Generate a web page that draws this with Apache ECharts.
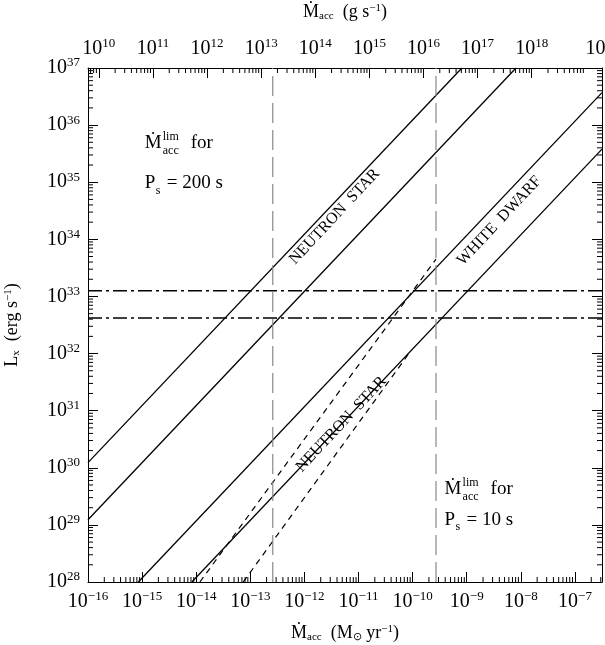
<!DOCTYPE html>
<html><head><meta charset="utf-8">
<script src="https://cdn.jsdelivr.net/npm/echarts@6/dist/echarts.min.js"></script>
<style>html,body{margin:0;padding:0;background:#fff}#c{width:605px;height:645px}</style>
</head><body><div id="c"></div>
<script>
// Axis ranges (Msun/yr, erg/s)
var xMin = 1e-16, xMax = 3.16e-7;
var yMin = 1e28, yMax = 1e37;
var gPerSunYr = 6.3e25;
// Solid lines (endpoints)
var ns1 = [[1e-16, 1.23e30], [8.13e-10, 1e37]];
var ns2 = [[1e-16, 1.23e29], [8.13e-9, 1e37]];
var wd1 = [[8.5e-16, 1e28], [3.16e-7, 3.7e36]];
var wd2 = [[8.3e-15, 1e28], [3.16e-7, 3.8e35]];
// Dashed lines
var d1 = [[1.17e-14, 1e28], [2.7e-10, 4.5e33]];
var d2 = [[7.4e-14, 1e28], [9.3e-11, 1.12e32]];
// Horizontal dash-dot levels
var hLevels = [1.26e33, 4.2e32];
// Vertical limits (P_s = 200 s, 10 s)
var vLimits = [2.6e-13, 2.7e-10];

var serif = 'Liberation Serif';
function expLabel(v){ var e = Math.round(Math.log10(v)); return '10{s|' + String(e).replace('-', '\u2212') + '}'; }
var tickRich = { s: { fontSize: 13, fontFamily: serif, padding: [0,0,10,0], color:'#000' } };

var minor = [];
for (var e = -17; e <= -6; e++) for (var k = 2; k <= 9; k++) {
  var v = k * Math.pow(10, e); if (v > xMin && v < xMax) minor.push([v, yMin, 0]);
}
for (var e2 = 9; e2 <= 19; e2++) for (var k2 = 2; k2 <= 9; k2++) {
  var vg = k2 * Math.pow(10, e2) / gPerSunYr; if (vg > xMin && vg < xMax) minor.push([vg, yMax, 1]);
}
for (var e3 = 28; e3 < 37; e3++) for (var k3 = 2; k3 <= 9; k3++) {
  var vy = k3 * Math.pow(10, e3); minor.push([xMin, vy, 2]); minor.push([xMax, vy, 3]);
}
var lineSer = function(d, st){ return {type:'line', data:d, symbol:'none', silent:true, lineStyle:st, xAxisIndex:0, yAxisIndex:0}; };
var solid = {color:'#000', width:1.3};
var series = [
  lineSer(ns1, solid), lineSer(ns2, solid), lineSer(wd1, solid), lineSer(wd2, solid),
  lineSer(d1, {color:'#000', width:1.2, type:[6,5]}),
  lineSer(d2, {color:'#000', width:1.2, type:[6,5]})
];
hLevels.forEach(function(h){ series.push(lineSer([[xMin,h],[xMax,h]], {color:'#000', width:1.6, type:[14,4,3,4]})); });
vLimits.forEach(function(v){ series.push(lineSer([[v,yMin],[v,yMax]], {color:'#888', width:1.2, type:[20,7]})); });
series.push({
  type:'custom', data:minor, silent:true, clip:false,
  renderItem:function(p, api){
    var pt = api.coord([api.value(0), api.value(1)]), t = api.value(2), L = 5;
    var s = {x1:pt[0], y1:pt[1], x2:pt[0], y2:pt[1]};
    if (t===0) s.y2 -= L; else if (t===1) s.y2 += L; else if (t===2) s.x2 += L; else s.x2 -= L;
    return {type:'line', shape:s, style:{stroke:'#000', lineWidth:1}};
  }
});
var ann = [
  [1.12e-15, 4.8e35, 'lim', 0], [1.12e-15, 9.5e34, 'P200', 0],
  [3.9e-10, 4.2e29, 'lim', 0], [3.9e-10, 1.23e29, 'P10', 0],
  [3.6e-12, 2.5e34, 'NEUTRON  STAR', 1], [4.8e-12, 5.8e30, 'NEUTRON  STAR', 1],
  [4.0e-9, 2.1e34, 'WHITE  DWARF', 1]
];
series.push({
  type:'custom', data:ann.map(function(a,i){return [a[0],a[1],i];}), silent:true, clip:false,
  renderItem:function(p, api){
    var pt = api.coord([api.value(0), api.value(1)]); var a = ann[api.value(2)];
    var f = {fontFamily:serif, fill:'#000'};
    if (a[2]==='lim') {
      return {type:'group', x:pt[0], y:pt[1], children:[
        {type:'text', style:Object.assign({text:'\u1E40', fontSize:19, x:0, y:0, verticalAlign:'middle'}, f)},
        {type:'text', style:Object.assign({text:'lim', fontSize:12, x:18, y:-6, verticalAlign:'middle'}, f)},
        {type:'text', style:Object.assign({text:'acc', fontSize:12, x:18, y:8, verticalAlign:'middle'}, f)},
        {type:'text', style:Object.assign({text:'for', fontSize:19, x:46, y:0, verticalAlign:'middle'}, f)}
      ]};
    }
    if (a[2]==='P200' || a[2]==='P10') {
      var rest = a[2]==='P200' ? '= 200 s' : '= 10 s';
      return {type:'group', x:pt[0], y:pt[1], children:[
        {type:'text', style:Object.assign({text:'P', fontSize:19, x:0, y:0, verticalAlign:'middle'}, f)},
        {type:'text', style:Object.assign({text:'s', fontSize:12, x:11, y:7, verticalAlign:'middle'}, f)},
        {type:'text', style:Object.assign({text:rest, fontSize:19, x:22, y:0, verticalAlign:'middle'}, f)}
      ]};
    }
    return {type:'text', x:pt[0], y:pt[1], rotation:0.82,
      style:Object.assign({text:a[2], fontSize:16, align:'center', verticalAlign:'middle'}, f)};
  }
});

var axisCommon = {
  type:'log', logBase:10, axisLine:{show:true, onZero:false, lineStyle:{color:'#000', width:1}},
  axisTick:{show:true, inside:true, length:10, lineStyle:{color:'#000'}}, splitLine:{show:false},
  axisLabel:{fontFamily:serif, fontSize:20, color:'#000', rich:tickRich, formatter:expLabel, showMinLabel:true, showMaxLabel:false},
  nameTextStyle:{fontFamily:serif, fontSize:18, color:'#000',
    rich:{sub:{fontSize:11, fontFamily:serif, padding:[8,0,0,0]}, sup:{fontSize:11, fontFamily:serif, padding:[0,0,8,0]}}}
};
function ax(o){ return Object.assign({}, JSON.parse(JSON.stringify(axisCommon)), {axisLabel:Object.assign({}, axisCommon.axisLabel)}, o); }
var option = {
  animation:false, backgroundColor:'#fff',
  grid:{left:88, right:3, top:68, bottom:63, outerBoundsMode:'none', containLabel:false},
  xAxis:[
    ax({min:xMin, max:xMax, position:'bottom', name:'\u1E40{sub|acc}  (M{sub|\u2299} yr{sup|\u22121})', nameLocation:'middle', nameGap:42}),
    ax({min:xMin*gPerSunYr, max:xMax*gPerSunYr, position:'top', name:'\u1E40{sub|acc}  (g s{sup|\u22121})', nameLocation:'middle', nameGap:46,
        axisLabel:Object.assign({}, axisCommon.axisLabel, {showMinLabel:false, showMaxLabel:true})})
  ],
  yAxis:[
    ax({min:yMin, max:yMax, position:'left', name:'L{sub|x}  (erg s{sup|\u22121})', nameLocation:'middle', nameGap:66,
        axisLabel:Object.assign({}, axisCommon.axisLabel, {showMaxLabel:true})}),
    ax({min:yMin, max:yMax, position:'right', axisLabel:{show:false}})
  ],
  series:series
};
var chart = echarts.init(document.getElementById('c'), null, {renderer:'canvas'});
chart.setOption(option);
</script></body></html>
